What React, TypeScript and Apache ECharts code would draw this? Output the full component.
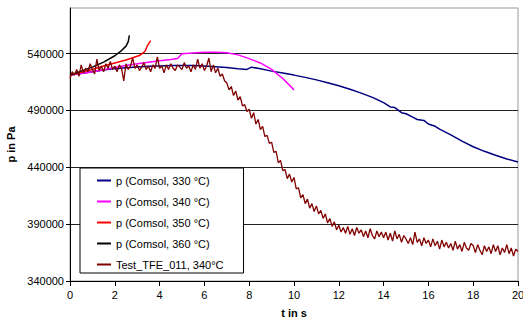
import React, { useEffect, useRef } from "react";
import * as echarts from "echarts";

const seriesNames = [
  "p (Comsol, 330 °C)",
  "p (Comsol, 340 °C)",
  "p (Comsol, 350 °C)",
  "p (Comsol, 360 °C)",
  "Test_TFE_011, 340°C",
];
const seriesColors = ["#000080", "#FF00FF", "#FF0000", "#000000", "#800000"];

// [t in s, p in Pa]
const comsol330: [number, number][] = [
  [0, 521000], [0.5, 522500], [1, 524000], [1.5, 525500], [2, 526700], [2.5, 527500],
  [3, 528200], [3.5, 528700], [4, 529100], [4.5, 529400], [5, 529500], [5.5, 529400],
  [6, 529000], [6.5, 528400], [7, 527600], [7.5, 526700], [7.9, 526000], [8.1, 528000],
  [8.5, 526500], [9, 524500], [9.5, 522800], [10, 521000], [10.5, 519000], [11, 516800],
  [11.5, 514300], [12, 511600], [12.5, 508600], [13, 505200], [13.5, 501400], [14, 496800],
  [14.3, 493000], [14.5, 492500], [14.8, 488000], [15, 487000], [15.3, 484000], [15.5, 482000],
  [15.8, 481200], [16, 478000], [16.3, 476000], [16.5, 473500], [17, 468500], [17.5, 463000],
  [18, 458000], [18.5, 454000], [19, 450500], [19.5, 447300], [20, 444600],
];
const comsol340: [number, number][] = [
  [0, 521000], [0.5, 522500], [1, 524000], [1.5, 525800], [2, 527700], [2.5, 529500],
  [3, 531000], [3.5, 532300], [4, 533600], [4.5, 534700], [4.8, 535600], [5, 539800],
  [5.5, 540500], [6, 541000], [6.5, 541200], [7, 540600], [7.5, 538800], [8, 535500],
  [8.5, 531700], [9, 526000], [9.5, 518000], [10, 508000],
];
const comsol350: [number, number][] = [
  [0, 521000], [0.5, 523500], [1, 526000], [1.5, 529000], [2, 531700], [2.5, 534300],
  [3.1, 538200], [3.35, 542000], [3.46, 547000], [3.6, 551400],
];
const comsol360: [number, number][] = [
  [0, 521000], [0.5, 524500], [1, 528000], [1.5, 532400], [2, 538000], [2.3, 542600],
  [2.5, 546500], [2.6, 550500], [2.65, 556000],
];

// measured test data, sampled every 0.1 s from t = 0
const testStart = 0;
const testStep = 0.1;
const testValues = [
  518000, 524000, 521000, 526000, 520000, 530000, 523000, 527000, 524000, 531000,
  526000, 522000, 535000, 525000, 529000, 524000, 531000, 527000, 533000, 526000,
  529000, 524000, 530000, 527000, 516000, 531000, 526000, 529000, 536000, 527000,
  530000, 525000, 528000, 532000, 526000, 529000, 524000, 530000, 527000, 537000,
  527000, 529000, 523000, 530000, 526000, 531000, 527000, 525000, 530000, 528000,
  526000, 532000, 527000, 529000, 524000, 530000, 526000, 535000, 527000, 531000,
  525000, 529000, 536000, 524000, 530000, 523000, 527000, 520000, 522000, 516000,
  514000, 508000, 511000, 503000, 507000, 499000, 502000, 494000, 495000, 489000,
  491000, 483000, 488000, 478000, 482000, 473000, 476000, 467000, 468000, 461000,
  462000, 453000, 454000, 444000, 446000, 437000, 438000, 430000, 434000, 427000,
  431000, 421000, 422000, 413000, 416000, 408000, 412000, 404000, 408000, 401000,
  406000, 399000, 402000, 395000, 399000, 391000, 395000, 388000, 392000, 385000,
  389000, 383000, 387000, 382000, 388000, 381000, 386000, 380000, 387000, 382000,
  385000, 379000, 384000, 378000, 386000, 380000, 377000, 384000, 379000, 383000,
  378000, 383000, 376000, 382000, 375000, 384000, 377000, 381000, 374000, 380000,
  377000, 373000, 378000, 372000, 383000, 374000, 377000, 371000, 378000, 373000,
  376000, 370000, 377000, 371000, 375000, 368000, 376000, 370000, 374000, 369000,
  373000, 367000, 375000, 368000, 372000, 366000, 374000, 369000, 367000, 373000,
  371000, 365000, 372000, 367000, 363000, 371000, 366000, 370000, 364000, 372000,
  366000, 371000, 363000, 369000, 365000, 372000, 364000, 369000, 362000, 368000,
  366000,
];

const xMin = 0, xMax = 20, xInterval = 2;
const yMin = 340000, yMax = 580000, yInterval = 50000;

export default function App() {
  const ref = useRef<HTMLDivElement>(null);
  useEffect(() => {
    if (!ref.current) return;
    const chart = echarts.init(ref.current, null, { renderer: "svg" });
    const testData = testValues.map((v, i) => [+(testStart + i * testStep).toFixed(2), v]);
    const datasets = [comsol330, comsol340, comsol350, comsol360, testData];
    const font = "'Liberation Sans', Arial, sans-serif";
    chart.setOption({
      animation: false,
      textStyle: { fontFamily: font },
      grid: {
        left: 70, right: 5, top: 8, bottom: 39,
        containLabel: false,
        outerBoundsMode: "none",
        show: true, borderColor: "#999", borderWidth: 1, backgroundColor: "#fff",
      },
      legend: {
        orient: "vertical",
        left: 80,
        top: 168,
        data: seriesNames.map((n) => ({ name: n, icon: "rect" })),
        itemWidth: 14,
        itemHeight: 2,
        itemGap: 10,
        padding: [7, 20, 3, 17],
        backgroundColor: "#fff",
        borderColor: "#000",
        borderWidth: 1,
        borderRadius: 0,
        textStyle: { fontFamily: font, fontSize: 11, color: "#000" },
      },
      xAxis: {
        type: "value",
        min: xMin, max: xMax, interval: xInterval,
        name: "t in s",
        nameLocation: "middle",
        nameGap: 26,
        nameTextStyle: { fontFamily: font, fontSize: 11, fontWeight: "bold", color: "#000" },
        axisLine: { lineStyle: { color: "#000", width: 1 } },
        axisTick: { length: 5, lineStyle: { color: "#000" } },
        axisLabel: { fontFamily: font, fontSize: 11, color: "#000", margin: 8 },
        splitLine: { show: false },
      },
      yAxis: {
        type: "value",
        min: yMin, max: yMax, interval: yInterval,
        name: "p in Pa",
        nameLocation: "middle",
        nameGap: 47,
        nameTextStyle: { fontFamily: font, fontSize: 11, fontWeight: "bold", color: "#000" },
        axisLine: { show: true, lineStyle: { color: "#000", width: 1 } },
        axisTick: { show: true, length: 4, lineStyle: { color: "#000" } },
        axisLabel: {
          fontFamily: font, fontSize: 11, color: "#000", margin: 6, showMaxLabel: false,
          formatter: (v: number) => String(v),
        },
        splitLine: { show: true, showMinLine: false, showMaxLine: false, lineStyle: { color: "#222", width: 1 } },
      },
      series: seriesNames.map((name, i) => ({
        name,
        type: "line",
        data: datasets[i],
        showSymbol: false,
        symbol: "none",
        color: seriesColors[i],
        lineStyle: { color: seriesColors[i], width: i === 4 ? 1.3 : 1.5 },
        z: 2 + i,
      })),
    });
    return () => chart.dispose();
  }, []);
  return (
    <div
      ref={ref}
      style={{ position: "fixed", left: 0, top: 0, width: 523, height: 320, background: "#fff" }}
    />
  );
}
